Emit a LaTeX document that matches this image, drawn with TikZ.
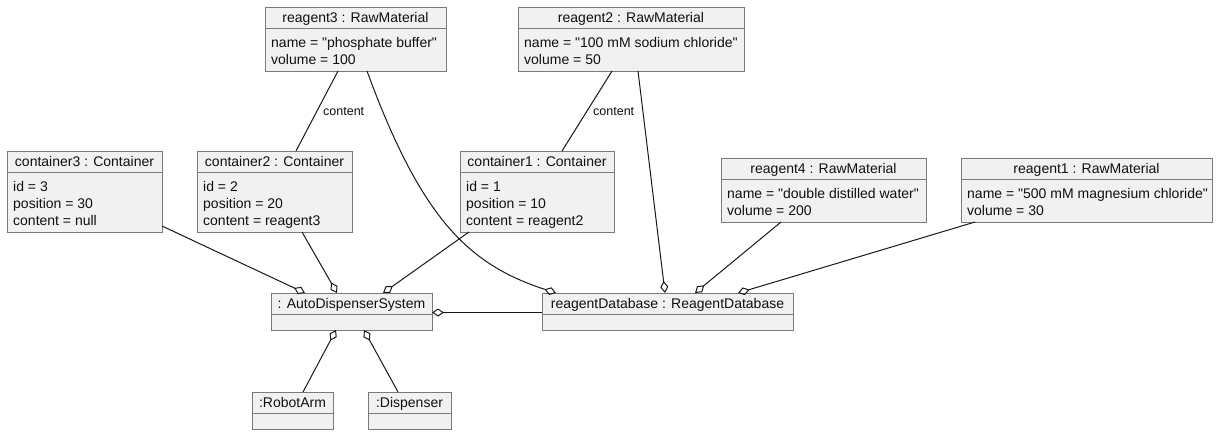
\documentclass[tikz,border=0pt]{standalone}
\usepackage{fontspec}
\setmainfont{Liberation Sans}[Ligatures=TeXOff]
\usetikzlibrary{arrows.meta,calc}

\definecolor{objfill}{HTML}{F1F1F1}
\definecolor{objline}{HTML}{7A7A7A}
\definecolor{edgeclr}{HTML}{181818}
\definecolor{txtclr}{HTML}{101010}

\tikzset{
  objframe/.style={rectangle, draw=objline, fill=objfill, line width=1pt, inner sep=0pt, outer sep=0pt},
  objrule/.style={draw=objline, line width=1pt},
  objtitle/.style={font=\fontsize{14}{17}\selectfont, text=txtclr, inner sep=0pt, anchor=base},
  objattr/.style={font=\fontsize{14}{17}\selectfont, text=txtclr, inner sep=0pt, anchor=base west},
  link/.style={draw=edgeclr, line width=1pt},
  agg/.style={link, -{Diamond[open, length=12pt, width=8pt]}},
  rolelabel/.style={font=\fontsize{12.5}{15}\selectfont, text=txtclr, inner sep=0pt, anchor=west},
}

% object box: name, left, top, width, height, header height, title, attribute lines
\newcommand\objbox[8]{%
  \node[objframe, minimum width=#4pt, minimum height=#5pt, anchor=north west] (#1) at (#2,#3) {};
  \draw[objrule] ($(#1.north west)+(0,#6)$) -- ($(#1.north east)+(0,#6)$);
  \node[objtitle] (#1-title) at ($(#1.north)+(0,#6/2+5)$) {#7};
  \foreach \attrline [count=\i] in {#8} {
    \node[objattr] (#1-a\i) at ($(#1.north west)+(6,#6+19+17*\i-17)$) {\attrline};
  }
}

\begin{document}
\begin{tikzpicture}[x=1pt, y=-1pt]
  \useasboundingbox (0,0) rectangle (1220,434);

  % reagents
  \objbox{r3}{265}{7}{181}{64}{21}{reagent3 : RawMaterial}{name = "phosphate buffer", volume = 100}
  \objbox{r2}{518}{7}{226}{64}{21}{reagent2 : RawMaterial}{name = "100 mM sodium chloride", volume = 50}
  \objbox{r4}{721}{158}{205}{64}{21}{reagent4 : RawMaterial}{name = "double distilled water", volume = 200}
  \objbox{r1}{961}{158}{251}{64}{21}{reagent1 : RawMaterial}{name = "500 mM magnesium chloride", volume = 30}

  % containers
  \objbox{c3}{7}{151}{155}{81}{21}{container3 : Container}{id = 3, position = 30, content = null}
  \objbox{c2}{197}{151}{155}{81}{21}{container2 : Container}{id = 2, position = 20, content = reagent3}
  \objbox{c1}{460}{151}{154}{81}{21}{container1 : Container}{id = 1, position = 10, content = reagent2}

  % system parts
  \objbox{ad}{271}{293}{161}{37}{21}{: AutoDispenserSystem}{}
  \objbox{db}{542}{293}{251}{37}{21}{reagentDatabase : ReagentDatabase}{}
  \objbox{arm}{252}{392}{81}{37}{21}{:RobotArm}{}
  \objbox{disp}{368}{392}{83}{37}{21}{:Dispenser}{}

  % container content links
  \draw[link] ($(r3.south west)+(73,0)$) -- ($(c2.north west)+(99,0)$);
  \node[rolelabel] (lbl3) at (323,112) {content};
  \draw[link] ($(r2.south west)+(94,0)$) -- ($(c1.north west)+(102,0)$);
  \node[rolelabel] (lbl2) at (593,112) {content};

  % reagents aggregated in the database
  \draw[agg] ($(r3.south west)+(102,0)$) .. controls (422,221) and (470,265) .. ($(db.north west)+(14,0)$);
  \draw[agg] ($(r2.south west)+(120,0)$) -- ($(db.north west)+(123,0)$);
  \draw[agg] ($(r4.south west)+(60,0)$) -- ($(db.north west)+(153,0)$);
  \draw[agg] ($(r1.south west)+(14,0)$) -- ($(db.north west)+(196,0)$);

  % containers aggregated in the system
  \draw[agg] ($(c3.south east)+(0,-6)$) -- ($(ad.north west)+(34,0)$);
  \draw[agg] ($(c2.south west)+(105,0)$) -- ($(ad.north west)+(66,0)$);
  \draw[agg] ($(c1.south west)+(9,0)$) -- ($(ad.north west)+(112,0)$);

  % database, arm and dispenser
  \draw[agg] ($(db.west)+(0,1)$) -- ($(ad.east)+(0,1)$);
  \draw[agg] ($(arm.north west)+(51,0)$) -- ($(ad.south west)+(65,0)$);
  \draw[agg] ($(disp.north west)+(30,0)$) -- ($(ad.south west)+(93,0)$);
\end{tikzpicture}
\end{document}
